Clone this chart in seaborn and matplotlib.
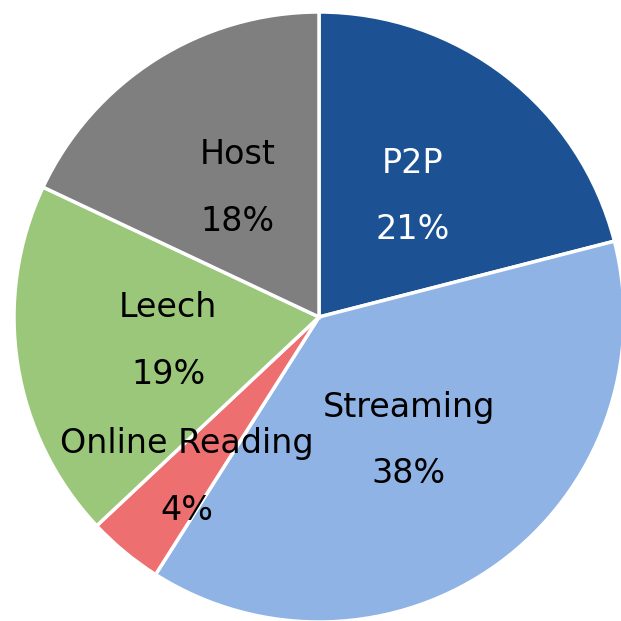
import numpy as np
import matplotlib
matplotlib.use("Agg")
import matplotlib.pyplot as plt
import seaborn as sns

# data
categories = ["P2P", "Streaming", "Online Reading", "Leech", "Host"]
shares = [21, 38, 4, 19, 18]
slice_colors = ["#1C5194", "#8FB3E4", "#EE6F6F", "#9BC77A", "#7F7F7F"]
text_colors = ["white", "black", "black", "black", "black"]
label_radius = [0.5, 0.5, 0.68, 0.5, 0.5]

sns.set_theme(style="white")
plt.rcParams['font.family'] = ['DejaVu Sans']

fig = plt.figure(figsize=(6.21, 6.21), dpi=100)
ax = fig.add_axes([0, 0, 1, 1])

palette = sns.color_palette(slice_colors)
wedges, _ = ax.pie(shares, colors=palette, startangle=90, counterclock=False,
                   wedgeprops=dict(edgecolor="white", linewidth=2.5))

# place the pie: centre ~ (319, 317) px, radius ~ 305 px
cx, cy, r = 319 / 621, 1 - 317 / 621, 305 / 621
ax.set_xlim(-1, 1)
ax.set_ylim(-1, 1)
ax.set_position([cx - r, cy - r, 2 * r, 2 * r])
ax.set_aspect("equal")
ax.axis("off")

for w, name, pct, tc, lr in zip(wedges, categories, shares, text_colors, label_radius):
    mid = np.deg2rad((w.theta1 + w.theta2) / 2)
    x, y = lr * np.cos(mid), lr * np.sin(mid)
    ax.annotate(name, (x, y), xytext=(0, 24), textcoords="offset points",
                ha="center", va="center", fontsize=24, color=tc)
    ax.annotate(f"{pct}%", (x, y), xytext=(0, -24), textcoords="offset points",
                ha="center", va="center", fontsize=24, color=tc)

fig.savefig("out.png", dpi=100)
